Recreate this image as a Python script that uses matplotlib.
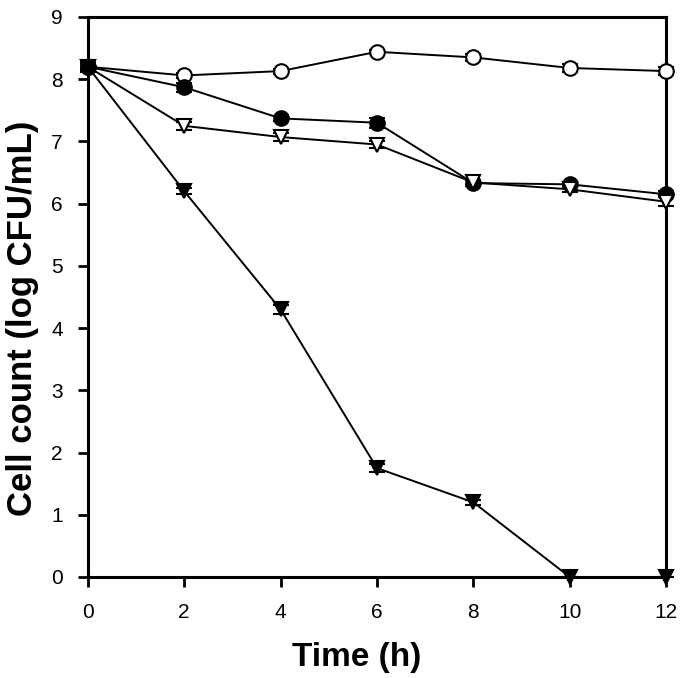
import matplotlib
matplotlib.use('Agg')
from matplotlib import pyplot as plt

plt.rcParams['font.family'] = ['Liberation Sans', 'DejaVu Sans']

time = [0, 2, 4, 6, 8, 10, 12]

openCircle = [8.2, 8.06, 8.13, 8.44, 8.35, 8.18, 8.13]
openCircleErr = [0.05, 0.04, 0.04, 0.03, 0.06, 0.07, 0.06]

filledCircle = [8.2, 7.87, 7.37, 7.3, 6.33, 6.31, 6.15]
filledCircleErr = [0.08, 0.07, 0.04, 0.08, 0.05, 0.04, 0.05]

openTriangle = [8.2, 7.25, 7.07, 6.95, 6.34, 6.23, 6.03]
openTriangleErr = [0.06, 0.06, 0.07, 0.05, 0.04, 0.05, 0.07]

filledTriangle = [8.2, 6.2, 4.3, 1.75, 1.2, 0.0, 0.0]
filledTriangleErr = [0.06, 0.05, 0.07, 0.06, 0.04, 0.0, 0.0]

fig = plt.figure(figsize=(6.86, 6.78), dpi=100)
ax = fig.add_axes([0.128, 0.149, 0.843, 0.826])

series = [
    (openCircle, openCircleErr, 'o', 'white'),
    (filledCircle, filledCircleErr, 'o', 'black'),
    (openTriangle, openTriangleErr, 'v', 'white'),
    (filledTriangle, filledTriangleErr, 'v', 'black'),
]
for values, err, marker, face in series:
    ax.errorbar(time, values, yerr=err, color='black', lw=1.4,
                marker=marker, markersize=10.5, markerfacecolor=face,
                markeredgecolor='black', markeredgewidth=1.5,
                capsize=6, capthick=1.5, elinewidth=1.5, clip_on=False, zorder=3)

ax.set_xlim(0, 12)
ax.set_ylim(0, 9)
ax.set_xticks(range(0, 13, 2))
ax.set_yticks(range(0, 10))

for side in ['left', 'right', 'top', 'bottom']:
    ax.spines[side].set_linewidth(2.2)

ax.tick_params(direction='out', length=7, width=2, labelsize=15)
ax.tick_params(axis='x', pad=12)
ax.tick_params(axis='y', pad=11)

ax.set_xlabel('Time (h)', fontsize=24, fontweight='bold', va='center', ha='center')
ax.xaxis.set_label_coords(0.464, -0.143)
ax.set_ylabel('Cell count (log CFU/mL)', fontsize=25, fontweight='bold', va='center', ha='center')
ax.yaxis.set_label_coords(-0.113, 0.4625)

plt.savefig('out.png', dpi=100)
